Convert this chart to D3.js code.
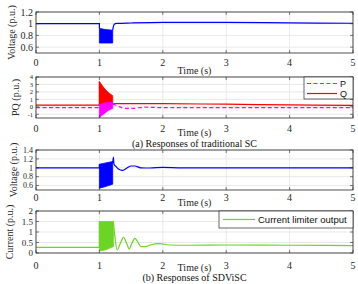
<!DOCTYPE html>
<html><head><meta charset="utf-8">
<script src="https://cdn.jsdelivr.net/npm/d3@7"></script>
<style>html,body{margin:0;padding:0;background:#fff;}svg{display:block;}</style>
</head><body>
<svg id="c" width="358" height="284"></svg>
<script>
// ---------- data ----------
const timeTicks = [0, 1, 2, 3, 4, 5];
const voltTicksA = [0.6, 0.8, 1, 1.2];
const pqTicks = [-1, 0, 1, 2, 3, 4];
const voltTicksB = [0.6, 0.8, 1, 1.2, 1.4];
const currTicks = [0, 0.5, 1, 1.5, 2];

// (a) traditional SC voltage
const vTradPre = [[0, 1.0], [1.0, 1.0]];
const vTradBand = [[1.0, 0.67, 0.92], [1.1, 0.67, 0.90], [1.21, 0.67, 0.89]];
const vTradPost = [[1.21, 0.89], [1.22, 0.95], [1.235, 0.99], [1.27, 1.005], [1.5, 1.012], [2.0, 1.022], [3.0, 1.024], [4.0, 1.015], [5.0, 1.008]];

// (a) traditional SC P and Q
const qPre = [[0, 0.22], [1.0, 0.22]];
const qBand = [[1.0, 0.25, 3.4], [1.05, 0.28, 2.8], [1.1, 0.3, 2.25], [1.15, 0.33, 1.85], [1.21, 0.36, 1.5]];
const qPost = [[1.21, 0.38], [1.25, 0.42], [1.5, 0.44], [2.0, 0.42], [3.0, 0.35], [4.0, 0.26], [5.0, 0.2]];
const pPre = [[0, -0.1], [1.0, -0.1]];
const pBand = [[1.0, -1.5, 0.3], [1.03, -1.2, 0.35], [1.08, -0.9, 0.5], [1.14, -0.5, 0.6], [1.21, -0.2, 0.55]];
const pPost = [[1.21, 0.4], [1.25, 0.25], [1.32, 0.0], [1.42, -0.22], [1.55, -0.2], [1.7, -0.05], [1.85, -0.08], [2.0, -0.12], [2.5, -0.1], [3.0, -0.1], [5.0, -0.1]];

// (b) SDViSC voltage
const vSdPre = [[0, 1.0], [1.0, 1.0]];
const vSdBand = [[1.0, 0.54, 1.08], [1.1, 0.58, 1.11], [1.21, 0.63, 1.14]];
const vSdPost = [[1.21, 1.1], [1.22, 1.24], [1.23, 1.08], [1.26, 1.03], [1.3, 0.97], [1.36, 0.94], [1.43, 0.99], [1.5, 1.04], [1.56, 1.04], [1.65, 1.0], [1.8, 0.995], [2.0, 1.01], [2.3, 1.0], [3.0, 1.0], [5.0, 1.0]];

// (b) SDViSC current limiter output
const iPre = [[0, 0.27], [1.0, 0.27]];
const iBand = [[1.0, 0.1, 1.5], [1.1, 0.15, 1.5], [1.2, 0.28, 1.5], [1.22, 0.3, 1.5]];
const iPost = [[1.22, 1.5], [1.24, 0.9], [1.28, 0.15], [1.33, 0.45], [1.38, 0.75], [1.43, 0.45], [1.47, 0.2], [1.51, 0.45], [1.56, 0.7], [1.61, 0.5], [1.66, 0.3], [1.72, 0.3], [1.8, 0.38], [1.95, 0.45], [2.1, 0.38], [2.4, 0.37], [3.0, 0.38], [4.0, 0.37], [5.0, 0.35]];

// ---------- drawing ----------
const svg = d3.select("#c");
const serif = "'Liberation Serif','Times New Roman',Times,serif";
const sans = "'Liberation Sans',Arial,Helvetica,sans-serif";
const L = 36, R = 353;
const x = d3.scaleLinear().domain([0, 5]).range([L, R]);

const BLUE = "#0000ff", RED = "#ff0000", MAG = "#ff00ff", GREEN = "#6cd424";

const panels = [
  {top: 12, bottom: 53, dom: [0.5, 1.2], ticks: voltTicksA, tfs: 10, label: "Voltage (p.u.)", lx: 11, tdy: 9.5, timeY: 70,
   series: [{pre: vTradPre, band: vTradBand, post: vTradPost, color: BLUE}]},
  {top: 77, bottom: 118, dom: [-1.5, 4], ticks: pqTicks, tfs: 6.6, label: "PQ (p.u.)", lx: 15, tdy: 10.5, timeY: 132,
   series: [{pre: qPre, band: qBand, post: qPost, color: RED},
            {pre: pPre, band: pBand, post: pPost, color: MAG, dash: "4,2.5"}]},
  {top: 150, bottom: 190, dom: [0.5, 1.4], ticks: voltTicksB, tfs: 8, label: "Voltage (p.u.)", lx: 13, tdy: 7.5, timeY: 202,
   series: [{pre: vSdPre, band: vSdBand, post: vSdPost, color: BLUE}]},
  {top: 211, bottom: 253, dom: [0, 2], ticks: currTicks, tfs: 9, label: "Current (p.u.)", lx: 9, tdy: 12, timeY: 267,
   series: [{pre: iPre, band: iBand, post: iPost, color: GREEN}]}
];

panels.forEach((p, pi) => {
  const y = d3.scaleLinear().domain(p.dom).range([p.bottom, p.top]);
  const g = svg.append("g");
  // grid
  g.selectAll(".gx").data(timeTicks).join("line")
    .attr("x1", d => x(d)).attr("x2", d => x(d)).attr("y1", p.top).attr("y2", p.bottom)
    .attr("stroke", "#e3e3e3").attr("stroke-width", 0.8);
  g.selectAll(".gy").data(p.ticks).join("line")
    .attr("x1", L).attr("x2", R).attr("y1", d => y(d)).attr("y2", d => y(d))
    .attr("stroke", "#e3e3e3").attr("stroke-width", 0.8);

  // data
  const clipId = "clip" + pi;
  svg.append("clipPath").attr("id", clipId).append("rect")
    .attr("x", L).attr("y", p.top).attr("width", R - L).attr("height", p.bottom - p.top);
  const dg = g.append("g").attr("clip-path", `url(#${clipId})`);
  const line = d3.line().x(d => x(d[0])).y(d => y(d[1]));
  const smooth = d3.line().x(d => x(d[0])).y(d => y(d[1])).curve(d3.curveMonotoneX);
  const area = d3.area().x(d => x(d[0])).y0(d => y(d[1])).y1(d => y(d[2]));
  p.series.forEach(s => {
    dg.append("path").attr("d", area(s.band)).attr("fill", s.color).attr("stroke", s.color).attr("stroke-width", 0.8);
    const full = s.pre.concat([[s.band[0][0], s.band[0][2]]]);
    dg.append("path").attr("d", line(full)).attr("fill", "none").attr("stroke", s.color)
      .attr("stroke-width", 1.2).attr("stroke-dasharray", s.dash || null);
    dg.append("path").attr("d", smooth(s.post)).attr("fill", "none").attr("stroke", s.color)
      .attr("stroke-width", 1.2).attr("stroke-dasharray", s.dash || null);
  });

  // axes ticks (inside, all sides)
  const tk = g.append("g").attr("stroke", "#262626").attr("stroke-width", 0.6);
  timeTicks.forEach(t => {
    tk.append("line").attr("x1", x(t)).attr("x2", x(t)).attr("y1", p.bottom).attr("y2", p.bottom - 3);
    tk.append("line").attr("x1", x(t)).attr("x2", x(t)).attr("y1", p.top).attr("y2", p.top + 3);
  });
  p.ticks.forEach(v => {
    tk.append("line").attr("x1", L).attr("x2", L + 3).attr("y1", y(v)).attr("y2", y(v));
    tk.append("line").attr("x1", R).attr("x2", R - 3).attr("y1", y(v)).attr("y2", y(v));
  });
  g.append("rect").attr("x", L).attr("y", p.top).attr("width", R - L).attr("height", p.bottom - p.top)
    .attr("fill", "none").attr("stroke", "#262626").attr("stroke-width", 0.8);

  // tick labels
  g.selectAll(".ty").data(p.ticks).join("text")
    .attr("x", L - 3).attr("y", d => y(d)).attr("dy", "0.35em").attr("text-anchor", "end")
    .attr("font-family", serif).attr("font-size", p.tfs).attr("fill", "#262626")
    .text(d => d < 0 ? "-" + Math.abs(d) : String(d));
  g.selectAll(".tx").data(timeTicks).join("text")
    .attr("x", d => x(d)).attr("y", p.bottom + p.tdy).attr("dy", "0.35em").attr("text-anchor", "middle")
    .attr("font-family", serif).attr("font-size", 10).attr("fill", "#262626")
    .text(d => String(d));
  g.append("text").attr("x", (L + R) / 2).attr("y", p.timeY).attr("dy", "0.35em").attr("text-anchor", "middle")
    .attr("font-family", serif).attr("font-size", 10).attr("fill", "#262626").text("Time (s)");
  g.append("text").attr("transform", `translate(${p.lx},${(p.top + p.bottom) / 2}) rotate(-90)`)
    .attr("dy", "0.35em").attr("text-anchor", "middle")
    .attr("font-family", serif).attr("font-size", 10).attr("fill", "#262626").text(p.label);
});

// captions
svg.append("text").attr("x", (L + R) / 2).attr("y", 143).attr("dy", "0.35em").attr("text-anchor", "middle")
  .attr("font-family", serif).attr("font-size", 10).attr("fill", "#111").text("(a) Responses of traditional SC");
svg.append("text").attr("x", (L + R) / 2).attr("y", 277).attr("dy", "0.35em").attr("text-anchor", "middle")
  .attr("font-family", serif).attr("font-size", 10).attr("fill", "#111").text("(b) Responses of SDViSC");

// legend PQ
const lg1 = svg.append("g");
lg1.append("rect").attr("x", 304).attr("y", 77).attr("width", 49).attr("height", 22)
  .attr("fill", "#fff").attr("stroke", "#262626").attr("stroke-width", 0.7);
[{name: "P", color: MAG, dash: "4,2.5", y: 83.5}, {name: "Q", color: RED, dash: null, y: 93.5}].forEach(e => {
  lg1.append("line").attr("x1", 307).attr("x2", 337).attr("y1", e.y).attr("y2", e.y)
    .attr("stroke", e.color).attr("stroke-width", 1.2).attr("stroke-dasharray", e.dash);
  lg1.append("text").attr("x", 340).attr("y", e.y).attr("dy", "0.35em")
    .attr("font-family", sans).attr("font-size", 9).attr("fill", "#111").text(e.name);
});

// legend current
const lg2 = svg.append("g");
lg2.append("rect").attr("x", 219).attr("y", 211).attr("width", 134).attr("height", 17)
  .attr("fill", "#fff").attr("stroke", "#262626").attr("stroke-width", 0.7);
lg2.append("line").attr("x1", 223).attr("x2", 255).attr("y1", 219.5).attr("y2", 219.5)
  .attr("stroke", GREEN).attr("stroke-width", 1.2);
lg2.append("text").attr("x", 258).attr("y", 219.5).attr("dy", "0.35em")
  .attr("font-family", sans).attr("font-size", 9.5).attr("fill", "#111").text("Current limiter output");
</script>
</body></html>
